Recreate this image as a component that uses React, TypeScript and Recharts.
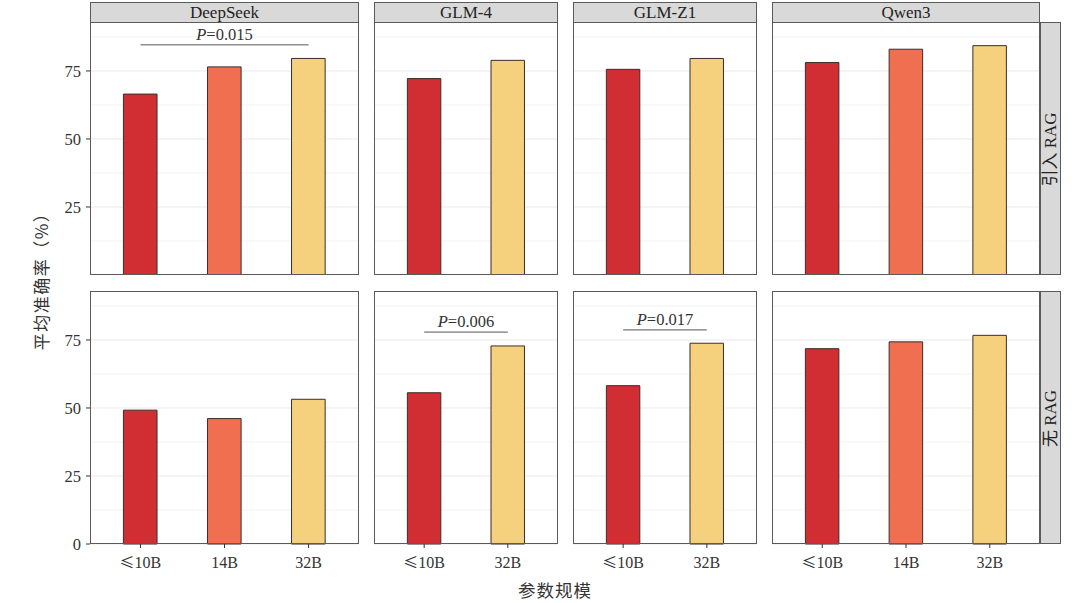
import React from 'react';
import { BarChart, Bar, XAxis, YAxis, Cell, ReferenceLine, CartesianGrid } from 'recharts';

// ---------- data ----------
const models = ['DeepSeek', 'GLM-4', 'GLM-Z1', 'Qwen3'];
const conditions = ['引入 RAG', '无 RAG'];

const deepseekSizes = ['≤10B', '14B', '32B'];
const glm4Sizes = ['≤10B', '32B'];
const glmz1Sizes = ['≤10B', '32B'];
const qwen3Sizes = ['≤10B', '14B', '32B'];

const ragDeepSeek = [66.5, 76.5, 79.6];
const ragGLM4 = [72.2, 78.9];
const ragGLMZ1 = [75.6, 79.6];
const ragQwen3 = [78.1, 83.0, 84.3];

const noRagDeepSeek = [49.2, 46.1, 53.2];
const noRagGLM4 = [55.6, 72.8];
const noRagGLMZ1 = [58.2, 73.8];
const noRagQwen3 = [71.8, 74.3, 76.7];

const yTicks = [0, 25, 50, 75];
const yMinor = [12.5, 37.5, 62.5, 87.5];
const yMax = 93;

// significance brackets (condition index, model index, height, p value)
const bracketRows = [0, 1, 1];
const bracketCols = [0, 1, 2];
const bracketY = [84.6, 77.9, 78.7];
const bracketP = ['0.015', '0.006', '0.017'];

const xTitle = '参数规模';
const yTitle = '平均准确率（%）';

// ---------- style ----------
const sizeColors: Record<string, string> = {
  '≤10B': '#D02E33',
  '14B': '#F06F51',
  '32B': '#F5D17E',
};
const FONT = '"Liberation Serif", "Noto Sans CJK SC", serif';
const CJK = '"Noto Sans CJK SC", "Liberation Serif", serif';
const COLS: [number, number][] = [[90, 359], [374, 558], [573, 757], [772, 1040]];
const ROWS: [number, number][] = [[22, 275], [291, 544]];
const BORDER = '#5a5a5a';

const panelCats = [deepseekSizes, glm4Sizes, glmz1Sizes, qwen3Sizes];
const panelVals = [
  [ragDeepSeek, ragGLM4, ragGLMZ1, ragQwen3],
  [noRagDeepSeek, noRagGLM4, noRagGLMZ1, noRagQwen3],
];

function PText(props: any) {
  const { viewBox, p } = props;
  const cx = viewBox.x + viewBox.width / 2;
  const y = viewBox.y - 5;
  return (
    <text x={cx} y={y} textAnchor="middle" fill="#333" fontSize={16.5} fontFamily={FONT}>
      <tspan fontStyle="italic">P</tspan>
      <tspan>={p}</tspan>
    </text>
  );
}

function XTick(props: any) {
  const { x, y, payload } = props;
  const v: string = String(payload.value);
  const hasLe = v.startsWith('≤');
  return (
    <text x={x} y={y} dy="0.71em" textAnchor="middle" fill="#333" fontSize={16} fontFamily={FONT}>
      {hasLe && <tspan fontFamily={CJK} fontSize={15}>≤</tspan>}
      <tspan>{hasLe ? v.slice(1) : v}</tspan>
    </text>
  );
}

function Panel({ r, c }: { r: number; c: number }) {
  const cats = panelCats[c];
  const vals = panelVals[r][c];
  const [x0, x1] = COLS[c];
  const [y0, y1] = ROWS[r];
  const w = x1 - x0;
  const h = y1 - y0;
  const showY = c === 0;
  const showX = r === 1;
  const YW = showY ? 60 : 0;
  const XH = showX ? 40 : 0;
  const u = w / (cats.length + 0.2);
  const data = cats.map((s, i) => ({ size: s, value: vals[i] }));
  const bIdx = bracketRows.findIndex((br, i) => br === r && bracketCols[i] === c);

  return (
    <div style={{ position: 'absolute', left: x0 - YW, top: y0, width: w + YW, height: h + XH }}>
      <BarChart width={w + YW} height={h + XH} data={data} margin={{ top: 0, right: 0, bottom: 0, left: 0 }}>
        <CartesianGrid vertical={false} horizontalValues={yMinor} stroke="#F3F3F3" strokeWidth={1} />
        <CartesianGrid vertical={false} horizontalValues={yTicks} stroke="#EAEAEA" strokeWidth={1} />
        <XAxis
          dataKey="size"
          type="category"
          hide={!showX}
          height={XH}
          padding={{ left: 0.1 * u, right: 0.1 * u }}
          axisLine={false}
          tickLine={{ stroke: '#333' }}
          tickSize={4}
          tickMargin={9}
          interval={0}
          tick={<XTick />}
        />
        <YAxis
          type="number"
          domain={[0, yMax]}
          ticks={yTicks}
          hide={!showY}
          width={YW}
          axisLine={false}
          tickLine={{ stroke: '#333' }}
          tickSize={4}
          tickMargin={5}
          tick={{ fill: '#333', fontSize: 16.5, fontFamily: FONT }}
        />
        <Bar dataKey="value" barSize={0.4 * u} isAnimationActive={false} stroke="#3d2b2b" strokeWidth={1}>
          {data.map((d) => (
            <Cell key={d.size} fill={sizeColors[d.size]} />
          ))}
        </Bar>
        {bIdx >= 0 && (
          <ReferenceLine
            segment={[
              { x: cats[0], y: bracketY[bIdx] },
              { x: cats[cats.length - 1], y: bracketY[bIdx] },
            ]}
            stroke="#555"
            strokeWidth={1}
            label={(props: any) => <PText {...props} p={bracketP[bIdx]} />}
          />
        )}
      </BarChart>
      <div
        style={{
          position: 'absolute',
          left: YW,
          top: 0,
          width: w,
          height: h,
          border: `1px solid ${BORDER}`,
          boxSizing: 'border-box',
          pointerEvents: 'none',
        }}
      />
    </div>
  );
}

export default function App() {
  return (
    <div
      style={{
        position: 'absolute',
        left: 0,
        top: 0,
        width: 1080,
        height: 603,
        background: '#fff',
        fontFamily: FONT,
        overflow: 'hidden',
      }}
    >
      {models.map((m, c) => (
        <div
          key={m}
          style={{
            position: 'absolute',
            left: COLS[c][0],
            top: 2,
            width: COLS[c][1] - COLS[c][0],
            height: 21,
            background: '#D9D9D9',
            border: `1px solid ${BORDER}`,
            boxSizing: 'border-box',
            textAlign: 'center',
            fontSize: 17,
            lineHeight: '19px',
            color: '#222',
          }}
        >
          {m}
        </div>
      ))}
      {conditions.map((cond, r) => {
        const h = ROWS[r][1] - ROWS[r][0];
        return (
          <div
            key={cond}
            style={{
              position: 'absolute',
              left: 1040,
              top: ROWS[r][0],
              width: 21,
              height: h,
              background: '#D9D9D9',
              border: `1px solid ${BORDER}`,
              boxSizing: 'border-box',
            }}
          >
            <div
              style={{
                position: 'absolute',
                left: (21 - h) / 2 - 1,
                top: (h - 21) / 2,
                width: h,
                height: 21,
                lineHeight: '21px',
                textAlign: 'center',
                transform: 'rotate(-90deg)',
                fontSize: 17,
                color: '#222',
                fontFamily: FONT,
                whiteSpace: 'nowrap',
              }}
            >
              {cond}
            </div>
          </div>
        );
      })}
      {[0, 1].map((r) => [0, 1, 2, 3].map((c) => <Panel key={`${r}-${c}`} r={r} c={c} />))}
      <div
        style={{
          position: 'absolute',
          left: 41 - 100,
          top: 277 - 12,
          width: 200,
          height: 24,
          lineHeight: '24px',
          textAlign: 'center',
          transform: 'rotate(-90deg)',
          fontSize: 17,
          letterSpacing: 1.5,
          color: '#333',
          fontFamily: CJK,
        }}
      >
        {yTitle}
      </div>
      <div
        style={{
          position: 'absolute',
          left: 555 - 100,
          top: 578,
          width: 200,
          height: 24,
          lineHeight: '24px',
          textAlign: 'center',
          fontSize: 17.5,
          letterSpacing: 1,
          color: '#333',
          fontFamily: CJK,
        }}
      >
        {xTitle}
      </div>
    </div>
  );
}
